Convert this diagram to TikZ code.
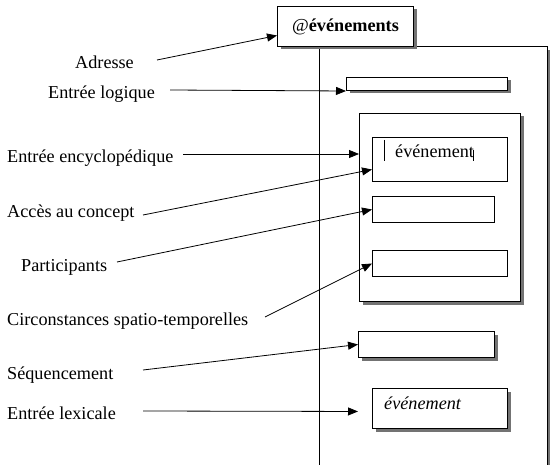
\documentclass[tikz,border=0pt]{standalone}
\usepackage{fontspec}
\setmainfont{Liberation Serif}
\usetikzlibrary{arrows.meta,shadows}
\begin{document}
\begin{tikzpicture}[x=1pt,y=-1pt,
  every node/.style={font=\fontsize{18.2}{21}\selectfont},
  lab/.style={anchor=base west, inner sep=0pt},
  box/.style={draw, fill=white, line width=1pt, inner sep=0pt, anchor=north west},
  shad/.style={drop shadow={shadow xshift=3pt, shadow yshift=-3pt, fill=black!55, opacity=1}},
  arr/.style={-{Triangle[length=10pt,width=8pt]}, line width=0.8pt},
]
\useasboundingbox (0,0) rectangle (551,465);
% outer frame (cut by the bottom edge)
\begin{scope}
\clip (0,0) rectangle (551,465);
\draw[line width=1pt, fill=white, shad] (319,47) rectangle (547,490);
\end{scope}
% boxes
\node[box, shad, minimum width=136pt, minimum height=40pt] (top) at (277,6) {{\normalfont @}\textbf{événements}};
\node[box, shad, minimum width=161pt, minimum height=13pt] (el) at (346,77) {};
\node[box, shad, minimum width=161pt, minimum height=188pt] (ib) at (359,113) {};
\node[box, minimum width=135pt, minimum height=44pt] (b1) at (372,137) {};
\node[box, minimum width=122pt, minimum height=26pt] (b2) at (372,196) {};
\node[box, minimum width=135pt, minimum height=26pt] (b3) at (372,250) {};
\node[box, shad, minimum width=136pt, minimum height=26pt] (sq) at (358,331) {};
\node[box, shad, minimum width=135pt, minimum height=40pt] (lx) at (372,388) {};
% texts in boxes
\node[lab] (t1) at (395,158) {événement};
\draw[line width=0.7pt] (384,140) -- (384,161);
\draw[line width=0.7pt] (473,150) -- (473,161);
\node[lab] (t2) at (384,409) {\textit{événement}};
% labels
\node[lab] (lAdr) at (75,69) {Adresse};
\node[lab] (lLog) at (48,99) {Entrée logique};
\node[lab] (lEnc) at (7,163) {Entrée encyclopédique};
\node[lab] (lAcc) at (7,217) {Accès au concept};
\node[lab] (lPar) at (21,271) {Participants};
\node[lab] (lCir) at (7,325) {Circonstances spatio-temporelles};
\node[lab] (lSeq) at (7,379) {Séquencement};
\node[lab] (lLex) at (7,419) {Entrée lexicale};
% connector start points
\coordinate (sAdr) at (157,60);
\coordinate (sLog) at (170,90);
\coordinate (sEnc) at (183,154);
\coordinate (sAcc) at (143,215);
\coordinate (sPar) at (117,262);
\coordinate (sCir) at (265,317);
\coordinate (sSeq) at (143,370);
\coordinate (sLex) at (143,411);
% connectors
\draw[arr] (sAdr) -- ([yshift=-9pt]top.west);
\draw[arr] (sLog) -- (el.south west);
\draw[arr] (sEnc) -- (sEnc -| ib.west);
\draw[arr] (sAcc) -- ([yshift=-10pt]b1.west);
\draw[arr] (sPar) -- (b2.west);
\draw[arr] (sCir) -- (b3.west);
\draw[arr] (sSeq) -- (sq.west);
\draw[arr, shorten >=14pt] (sLex) -- ([yshift=-3pt]lx.west);
\end{tikzpicture}
\end{document}
